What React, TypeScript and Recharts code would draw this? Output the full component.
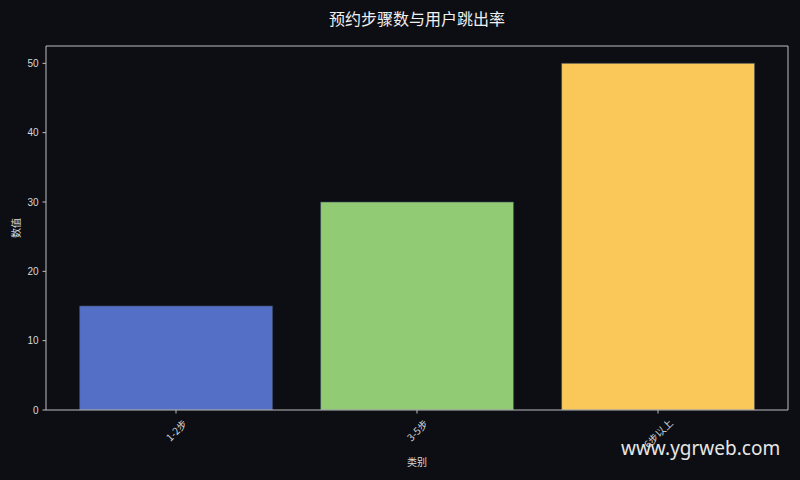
import React from 'react';
import { BarChart, Bar, XAxis, YAxis, Cell, Label } from 'recharts';

const categories = ['1-2步', '3-5步', '6步以上'];
const values = [15, 30, 50];
const colors = ['#5470c6', '#91cc75', '#fac858'];
const yTicks = [0, 10, 20, 30, 40, 50];
const title = '预约步骤数与用户跳出率';
const xLabel = '类别';
const yLabel = '数值';
const watermark = 'www.ygrweb.com';

const data = categories.map((c, i) => ({ name: c, value: values[i] }));

const BG = '#0c0e14';
const SPINE = '#bdbdbd';
const TEXT = '#d9d9d9';

const textLen = (s: string, fs: number) =>
  Array.from(s).reduce((a, ch) => a + (ch.charCodeAt(0) > 255 ? fs : fs * 0.56), 0);

const XTick = (props: any) => {
  const { x, y, payload } = props;
  const s = String(payload.value);
  const L = textLen(s, 10);
  const h = (L + 10) * 0.7071;
  const cy = y + h / 2;
  return (
    <text
      x={x}
      y={cy}
      textAnchor="middle"
      dominantBaseline="central"
      fill={TEXT}
      fontSize={10}
      fontFamily="'Noto Sans CJK SC', 'Liberation Sans', sans-serif"
      transform={`rotate(-45, ${x}, ${cy})`}
    >
      {s}
    </text>
  );
};

export default function App() {
  return (
    <div style={{ position: 'absolute', left: 0, top: 0, width: 800, height: 480, background: BG }}>
      <BarChart
        width={800}
        height={480}
        data={data}
        margin={{ top: 46, right: 12, bottom: 0, left: 0 }}
        barCategoryGap="10%"
      >
        <XAxis
          dataKey="name"
          height={70}
          padding={{ left: 9.5, right: 9.5 }}
          axisLine={{ stroke: SPINE, strokeWidth: 1 }}
          tickLine={{ stroke: SPINE }}
          tickSize={3.5}
          tickMargin={3.5}
          tick={<XTick />}
          interval={0}
        >
          <Label
            content={(p: any) => {
              const vb = p.viewBox || { x: 46, y: 410, width: 742 };
              const left = vb.x;
              const right = vb.x + vb.width;
              const bottom = vb.y;
              return (
                <g>
                  <line x1={left} y1={46} x2={right} y2={46} stroke={SPINE} strokeWidth={1} />
                  <line x1={right} y1={46} x2={right} y2={bottom} stroke={SPINE} strokeWidth={1} />
                  <text x={417} y={461} textAnchor="middle" dominantBaseline="central" fill={TEXT} fontSize={10}
                    fontFamily="'Noto Sans CJK SC', sans-serif">{xLabel}</text>
                  <text x={417} y={18} textAnchor="middle" dominantBaseline="central" fill="#f0f0f0" fontSize={16}
                    fontFamily="'Noto Sans CJK SC', sans-serif">{title}</text>
                  <text x={621} y={448} dominantBaseline="central" fill="#e6e6e6" fontSize={19}
                    fontFamily="'Noto Sans', sans-serif">{watermark}</text>
                </g>
              );
            }}
          />
        </XAxis>
        <YAxis
          width={46}
          domain={[0, 52.5]}
          ticks={yTicks}
          axisLine={{ stroke: SPINE, strokeWidth: 1 }}
          tickLine={{ stroke: SPINE }}
          tickSize={3.5}
          tickMargin={4}
          tick={{ fill: TEXT, fontSize: 10, fontFamily: "'Liberation Sans', Arial, sans-serif" }}
          allowDataOverflow
        >
          <Label
            content={() => (
              <text x={15} y={228} textAnchor="middle" dominantBaseline="central" fill={TEXT} fontSize={10}
                fontFamily="'Noto Sans CJK SC', sans-serif" transform="rotate(-90, 15, 228)">{yLabel}</text>
            )}
          />
        </YAxis>
        <Bar dataKey="value" isAnimationActive={false} stroke="rgba(60,70,90,0.6)" strokeWidth={1}>
          {data.map((d, i) => (
            <Cell key={d.name} fill={colors[i]} />
          ))}
        </Bar>
      </BarChart>
    </div>
  );
}
